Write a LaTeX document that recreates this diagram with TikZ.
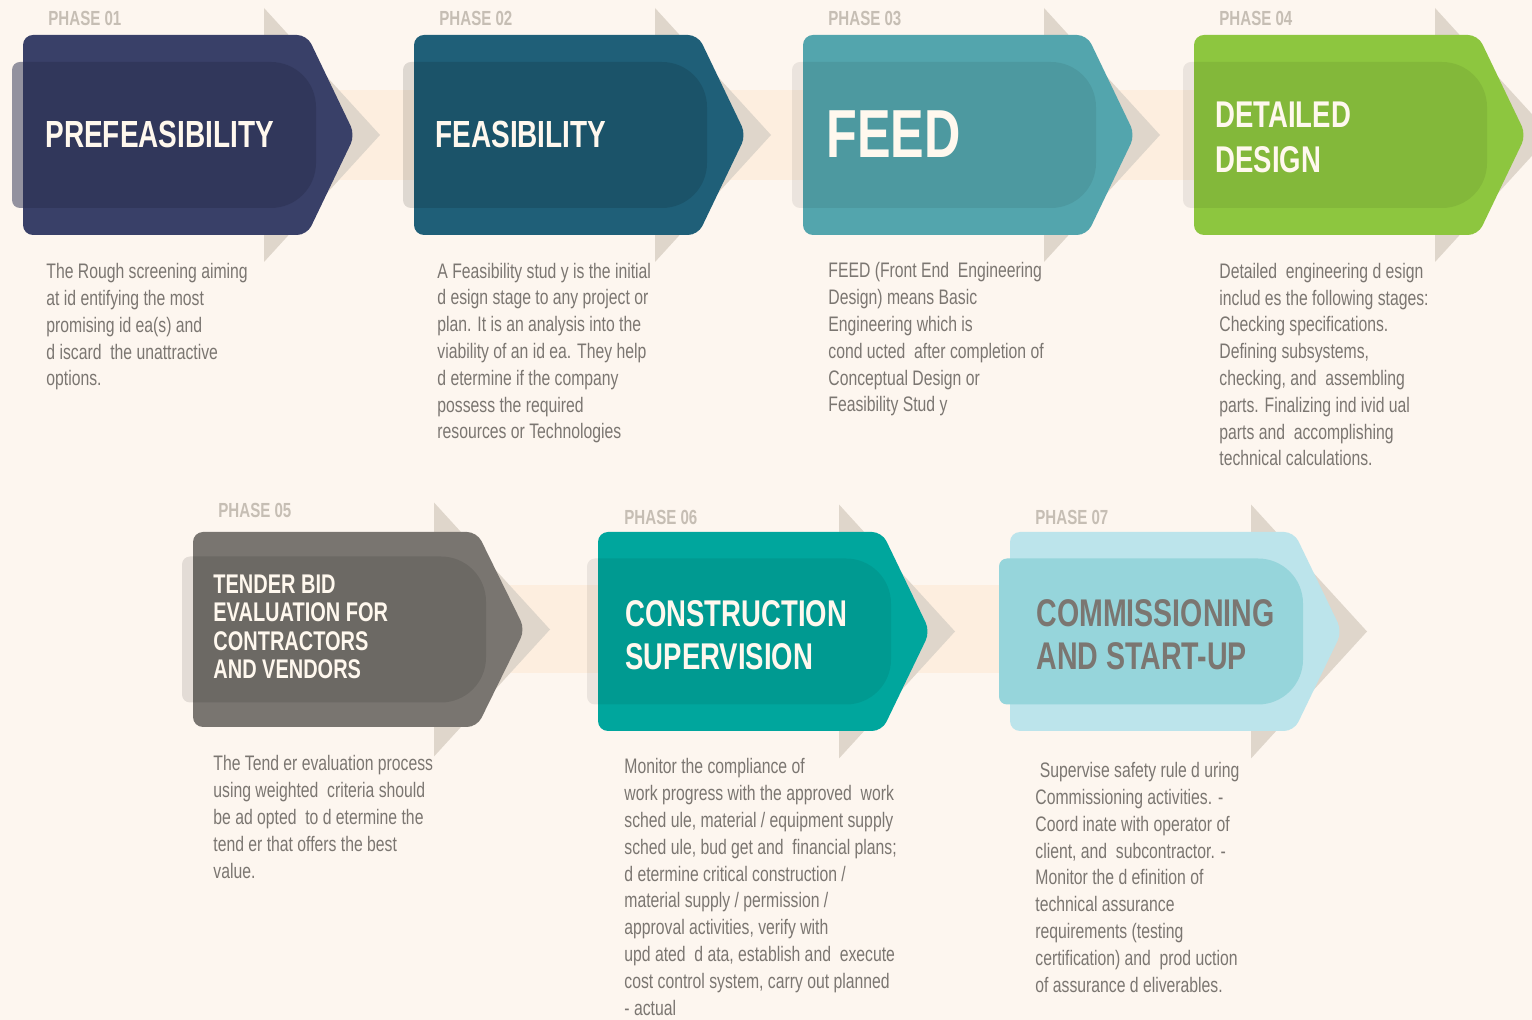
\documentclass[tikz,border=0pt]{standalone}
\usepackage{fontspec}
\usepackage{xcolor}
\usepackage{tikz}
\usetikzlibrary{positioning,calc}

\newfontfamily\headfont{Liberation Sans}[FakeStretch=0.74]
\newfontfamily\bodyfont{Liberation Sans}[FakeStretch=0.75]

\definecolor{bgcream}{HTML}{FDF6EF}
\definecolor{bandpeach}{HTML}{FDEEDF}
\definecolor{chevgray}{HTML}{DFD6CB}
\definecolor{phaselbl}{HTML}{C6BEB4}
\definecolor{bodygray}{HTML}{7B7671}
\definecolor{titlewhite}{HTML}{FFF8EE}
\definecolor{navyphase}{HTML}{394068}
\definecolor{navyshade}{HTML}{2B3050}
\definecolor{petrolphase}{HTML}{1F5F78}
\definecolor{tealphase}{HTML}{53A5AD}
\definecolor{greenphase}{HTML}{8DC63F}
\definecolor{greyphase}{HTML}{797570}
\definecolor{jadephase}{HTML}{00A69D}
\definecolor{skyphase}{HTML}{BCE4EB}
\definecolor{skyshade}{HTML}{96D5DB}

% one phase arrow: left, top, height, fill colour, overlay style
\newcommand{\phasearrow}[5]{%
  \begin{scope}[shift={(#1,#2)}]
    \pgfmathsetmacro{\ot}{#3/2-73}
    \pgfmathsetmacro{\ob}{#3/2+73}
    \fill[chevron] (241,#3/2-127) -- (357,#3/2) -- (241,#3/2+127) -- cycle;
    \fill[#4, rounded corners=5pt] (0,0) -- (284,0) -- (332,#3/2) -- (284,#3) -- (0,#3) -- cycle;
    \fill[#5] (-3,\ot) -- (248,\ot) arc[start angle=-90,end angle=0,radius=45]
      -- (293,\ob-45) arc[start angle=0,end angle=90,radius=45]
      -- (-3,\ob) arc[start angle=90,end angle=180,radius=8]
      -- (-11,\ot+8) arc[start angle=180,end angle=270,radius=8] -- cycle;
  \end{scope}}

\begin{document}
\begin{tikzpicture}[x=0.5pt,y=-0.5pt,
    chevron/.style={fill=chevgray},
    shade/.style={fill=black, fill opacity=0.1},
    phaselabel/.style={anchor=base west, inner sep=0pt, text=phaselbl,
      font=\headfont\bfseries\fontsize{10.2}{12}\selectfont},
    headtext/.style={anchor=base west, inner sep=0pt, align=left, text=titlewhite},
    bodytext/.style={anchor=base west, inner sep=0pt, align=left, text=bodygray,
      font=\bodyfont\fontsize{10.5}{13.4}\selectfont}]

  \fill[bgcream] (0,0) rectangle (1532,1020);
  \useasboundingbox (0,0) rectangle (1532,1020);

  % bands behind the arrows
  \fill[bandpeach] (150,90) rectangle (1300,180);
  \fill[bandpeach] (350,585) rectangle (1150,673);

  % first row
  \phasearrow{23}{35}{200}{navyphase}{fill=navyshade, fill opacity=0.5}
  \phasearrow{414}{35}{200}{petrolphase}{shade, fill opacity=0.12}
  \phasearrow{803}{35}{200}{tealphase}{shade, fill opacity=0.07}
  \phasearrow{1194}{35}{200}{greenphase}{shade, fill opacity=0.07}

  % second row
  \phasearrow{193}{532}{195}{greyphase}{shade}
  \phasearrow{598}{532}{199}{jadephase}{shade, fill opacity=0.07}
  \phasearrow{1010}{532}{199}{skyphase}{fill=skyshade}

  \node[phaselabel] (p1) at (48,26) {PHASE 01};
  \node[phaselabel] (p2) at (439,26) {PHASE 02};
  \node[phaselabel] (p3) at (828,26) {PHASE 03};
  \node[phaselabel] (p4) at (1219,26) {PHASE 04};
  \node[phaselabel] (p5) at (218,518) {PHASE 05};
  \node[phaselabel] (p6) at (624,525) {PHASE 06};
  \node[phaselabel] (p7) at (1035,525) {PHASE 07};

  % multi-line nodes sit on the baseline of their last line
  \node[headtext, font=\headfont\bfseries\fontsize{18.9}{22}\selectfont] (t1) at (45,148) {PREFEASIBILITY};
  \node[headtext, font=\headfont\bfseries\fontsize{18.9}{22}\selectfont] (t2) at (435,148) {FEASIBILITY};
  \node[headtext, font=\headfont\bfseries\fontsize{34}{40}\selectfont] (t3) at (826,158) {FEED};
  \node[headtext, font=\headfont\bfseries\fontsize{18.6}{22.5}\selectfont] (t4) at (1215,173) {DETAILED\\DESIGN};
  \node[headtext, font=\headfont\bfseries\fontsize{13.5}{14.3}\selectfont] (t5) at (213,679)
    {TENDER BID\\EVALUATION FOR\\CONTRACTORS\\AND VENDORS};
  \node[headtext, font=\headfont\bfseries\fontsize{18.6}{21.5}\selectfont] (t6) at (625,670)
    {CONSTRUCTION\\SUPERVISION};
  \node[headtext, text=bodygray, font=\headfont\bfseries\fontsize{19.3}{21.5}\selectfont] (t7) at (1036,670)
    {COMMISSIONING\\AND START-UP};

  \node[bodytext] (d1) at (46,386) {The Rough screening aiming\\at id entifying the most\\
    promising id ea(s) and\\d iscard\ \ the unattractive\\options.};
  \node[bodytext] (d2) at (437,439) {A Feasibility stud y is the initial\\d esign stage to any project or\\
    plan. It is an analysis into the\\viability of an id ea. They help\\d etermine if the company\\
    possess the required\\resources or Technologies};
  \node[bodytext] (d3) at (828,412) {FEED (Front End\ \ Engineering\\Design) means Basic\\
    Engineering which is\\cond ucted\ \ after completion of\\Conceptual Design or\\Feasibility Stud y};
  \node[bodytext] (d4) at (1219,466) {Detailed\ \ engineering d esign\\includ es the following stages:\\
    Checking specifications.\\Defining subsystems,\\checking, and\ \ assembling\\
    parts. Finalizing ind ivid ual\\parts and\ \ accomplishing\\technical calculations.};
  \node[bodytext] (d5) at (213,878) {The Tend er evaluation process\\using weighted\ \ criteria should\\
    be ad opted\ \ to d etermine the\\tend er that offers the best\\value.};
  \node[bodytext] (d6) at (624,1015) {Monitor the compliance of\\work progress with the approved\ \ work\\
    sched ule, material / equipment supply\\sched ule, bud get and\ \ financial plans;\\
    d etermine critical construction /\\material supply / permission /\\approval activities, verify with\\
    upd ated\ \ d ata, establish and\ \ execute\\cost control system, carry out planned\\- actual};
  \node[bodytext] (d7) at (1035,992) {\ Supervise safety rule d uring\\Commissioning activities. -\\
    Coord inate with operator of\\client, and\ \ subcontractor. -\\Monitor the d efinition of\\
    technical assurance\\requirements (testing\\certification) and\ \ prod uction\\of assurance d eliverables.};
\end{tikzpicture}
\end{document}
